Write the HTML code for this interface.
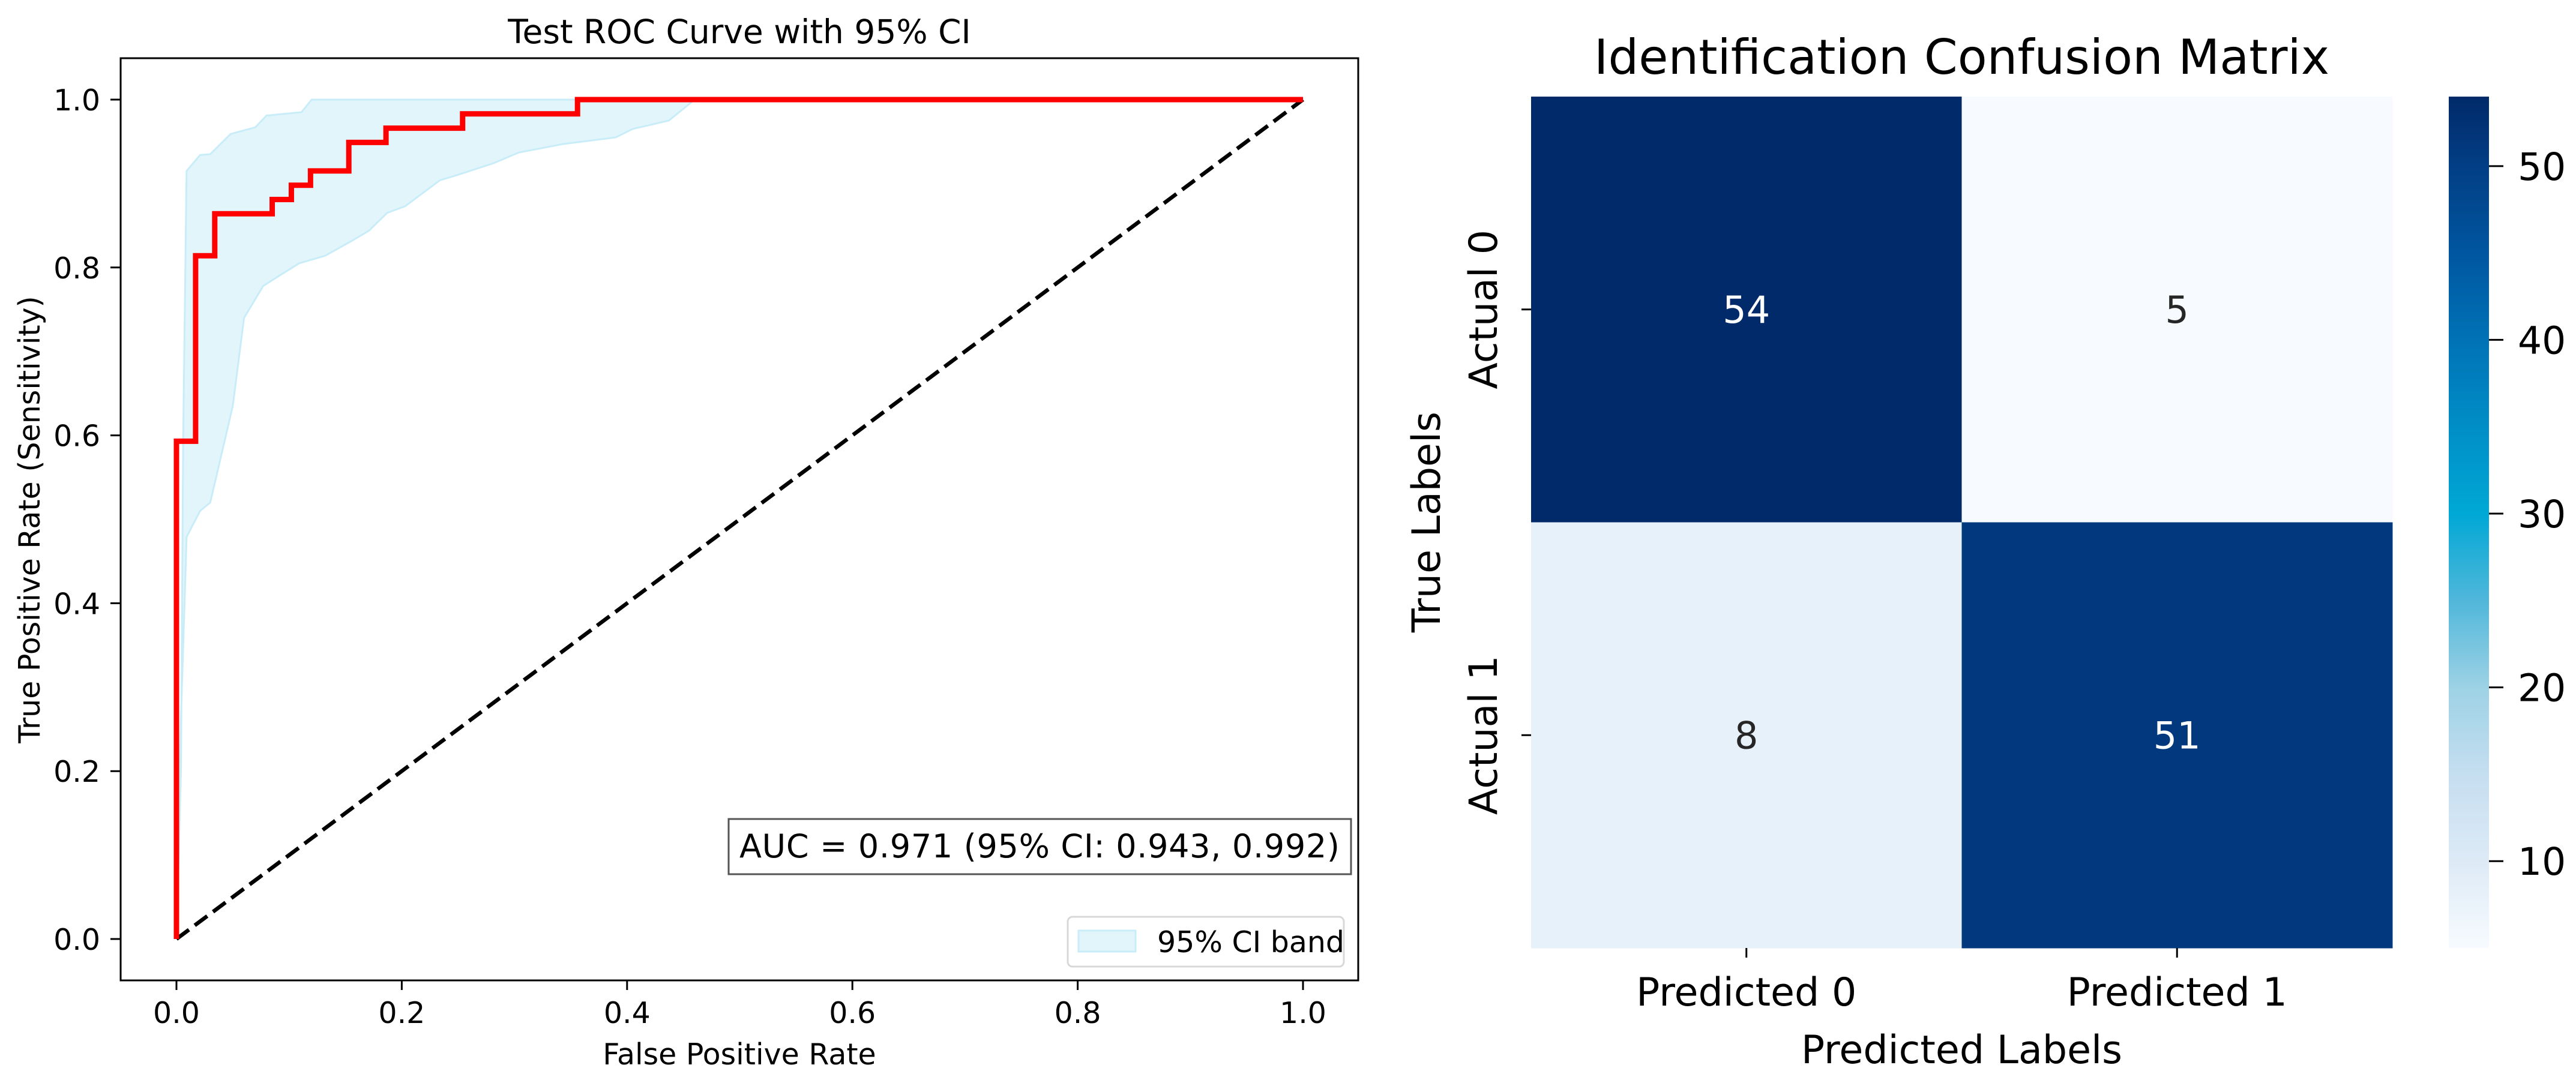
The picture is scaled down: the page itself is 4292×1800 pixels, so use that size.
<!DOCTYPE html>
<html><head><meta charset="utf-8"><style>
html,body{margin:0;padding:0;background:#fff;}
svg{display:block;font-family:"DejaVu Sans","Liberation Sans",sans-serif;}
</style></head><body>
<svg id="fig" width="4292" height="1800" viewBox="0 0 4292 1800" xmlns="http://www.w3.org/2000/svg">
<rect x="0" y="0" width="4292" height="1800" fill="#fff"/>
<g id="roc"></g>
<g id="cm"></g>
</svg>
<script>
// ROC data
const rocFpr = [0,0,0.017,0.017,0.034,0.034,0.085,0.085,0.102,0.102,0.119,0.119,0.153,0.153,0.186,0.186,0.254,0.254,0.356,0.356,1];
const rocTpr = [0,0.593,0.593,0.814,0.814,0.864,0.864,0.881,0.881,0.898,0.898,0.915,0.915,0.949,0.949,0.966,0.966,0.983,0.983,1,1];
const ciUpperFpr = [0,0.004,0.006,0.009,0.021,0.03,0.048,0.07,0.08,0.111,0.12,1];
const ciUpperTpr = [0,0.2,0.6,0.915,0.934,0.935,0.959,0.967,0.981,0.985,1,1];
const ciLowerFpr = [0,0.003,0.009,0.021,0.03,0.05,0.06,0.077,0.091,0.109,0.132,0.156,0.171,0.187,0.203,0.234,0.249,0.281,0.304,0.343,0.39,0.405,0.437,0.449,0.46,1];
const ciLowerTpr = [0,0.22,0.479,0.51,0.52,0.635,0.74,0.778,0.79,0.805,0.814,0.832,0.844,0.865,0.873,0.904,0.91,0.924,0.937,0.947,0.955,0.965,0.975,0.988,1,1];
const rocTicks = [0,0.2,0.4,0.6,0.8,1.0];
const rocTickLabels = ["0.0","0.2","0.4","0.6","0.8","1.0"];
// Confusion matrix data
const cmRows = ["Actual 0","Actual 1"];
const cmCols = ["Predicted 0","Predicted 1"];
const cmValues = [[54,5],[8,51]];
const cbTicks = [10,20,30,40,50];

const NS = "http://www.w3.org/2000/svg";
function mk(parent, tag, attrs, text){
  const e = document.createElementNS(NS, tag);
  for (const k in attrs) e.setAttribute(k, attrs[k]);
  if (text !== undefined) e.textContent = text;
  parent.appendChild(e);
  return e;
}

// ---------- ROC ----------
const roc = document.getElementById('roc');
const X0 = 294, X1 = 2171, Y0 = 1565, Y1 = 166;
const sx = v => X0 + (X1 - X0) * v;
const sy = v => Y0 + (Y1 - Y0) * v;

let bandPts = [];
for (let i = 0; i < ciUpperFpr.length; i++) bandPts.push(sx(ciUpperFpr[i]) + ',' + sy(ciUpperTpr[i]));
for (let i = ciLowerFpr.length - 1; i >= 0; i--) bandPts.push(sx(ciLowerFpr[i]) + ',' + sy(ciLowerTpr[i]));
const band = mk(roc, 'polygon', {points: bandPts.join(' '), fill: '#e1f5fb', stroke: '#c9edf8', 'stroke-width': 3});



const diag = mk(roc, 'line', {x1: sx(0), y1: sy(0), x2: sx(1), y2: sy(1), stroke: '#000', 'stroke-width': 6.5, 'stroke-dasharray': '26,12'});



const rocPts = rocFpr.map((f, i) => sx(f) + ',' + sy(rocTpr[i])).join(' ');
const rocLine = mk(roc, 'polyline', {points: rocPts, fill: 'none', stroke: '#ff0000', 'stroke-width': 9, 'stroke-linejoin': 'miter'});



const frame = mk(roc, 'rect', {x: 201, y: 97, width: 2062, height: 1537, fill: 'none', stroke: '#000', 'stroke-width': 3});



rocTicks.forEach((t, i) => {
  const tx = mk(roc, 'line', {x1: sx(t), y1: 1634, x2: sx(t), y2: 1650, stroke: '#000', 'stroke-width': 3});
  
  
  const lx = mk(roc, 'text', {x: sx(t), y: 1705, 'font-size': 49, 'text-anchor': 'middle', fill: '#000'}, rocTickLabels[i]);
  
  
  const ty = mk(roc, 'line', {x1: 184, y1: sy(t), x2: 201, y2: sy(t), stroke: '#000', 'stroke-width': 3});
  
  
  const ly = mk(roc, 'text', {x: 167, y: sy(t) + 18, 'font-size': 49, 'text-anchor': 'end', fill: '#000'}, rocTickLabels[i]);
  
  
});

const rocTitle = mk(roc, 'text', {x: 1232, y: 72, 'font-size': 55, 'text-anchor': 'middle', fill: '#000'}, 'Test ROC Curve with 95% CI');


const xl = mk(roc, 'text', {x: 1232, y: 1774, 'font-size': 49, 'text-anchor': 'middle', fill: '#000'}, 'False Positive Rate');


const yl = mk(roc, 'text', {x: 0, y: 0, 'font-size': 49, 'text-anchor': 'middle', fill: '#000', transform: 'translate(66,866) rotate(-90)'}, 'True Positive Rate (Sensitivity)');



const aucBox = mk(roc, 'rect', {x: 1214, y: 1365, width: 1037, height: 92, fill: '#fff', stroke: '#555', 'stroke-width': 3});


const aucText = mk(roc, 'text', {x: 1232, y: 1429, 'font-size': 54, fill: '#000', textLength: 1000}, 'AUC = 0.971 (95% CI: 0.943, 0.992)');



const leg = mk(roc, 'rect', {x: 1779, y: 1528, width: 460, height: 83, rx: 8, fill: '#fff', stroke: '#d8d8d8', 'stroke-width': 3});


const legPatch = mk(roc, 'rect', {x: 1797, y: 1551, width: 95, height: 35, fill: '#e1f5fb', stroke: '#c9edf8', 'stroke-width': 3});


const legText = mk(roc, 'text', {x: 1928, y: 1587, 'font-size': 49, fill: '#000'}, '95% CI band');



// ---------- Confusion matrix ----------
const cm = document.getElementById('cm');
const HX0 = 2551, HX1 = 3986, HY0 = 161, HY1 = 1580;
const vmin = 5, vmax = 54;
const cw = (HX1 - HX0) / cmCols.length, ch = (HY1 - HY0) / cmRows.length;
const cStops = [[5,[247,251,255]],[10,[221,234,246]],[15,[197,222,240]],[20,[157,210,229]],[25,[80,183,218]],[30,[0,168,213]],[35,[0,142,198]],[40,[0,114,181]],[45,[0,86,160]],[50,[2,62,132]],[54,[1,42,106]]];
function cmap(v){
  if (v <= cStops[0][0]) return cStops[0][1];
  for (let i = 1; i < cStops.length; i++){
    if (v <= cStops[i][0]){
      const a = cStops[i-1], b = cStops[i], t = (v - a[0]) / (b[0] - a[0]);
      return a[1].map((c, k) => Math.round(c + (b[1][k] - c) * t));
    }
  }
  return cStops[cStops.length-1][1];
}
const rgb = c => 'rgb(' + c.join(',') + ')';

cmValues.forEach((row, r) => {
  row.forEach((v, c) => {
    const cell = mk(cm, 'rect', {x: HX0 + c * cw, y: HY0 + r * ch, width: cw + 0.5, height: ch + 0.5, fill: rgb(cmap(v))});
    
    
    const lum = v > (vmin + vmax) / 2;
    const t = mk(cm, 'text', {x: HX0 + (c + 0.5) * cw, y: HY0 + (r + 0.5) * ch + 22, 'font-size': 62, 'text-anchor': 'middle', fill: lum ? '#fff' : '#262626'}, String(v));
    
    
  });
});

cmCols.forEach((lab, i) => {
  const x = HX0 + (i + 0.5) * cw;
  const tk = mk(cm, 'line', {x1: x, y1: HY1, x2: x, y2: HY1 + 16, stroke: '#000', 'stroke-width': 3});
  
  
  const t = mk(cm, 'text', {x: x, y: 1676, 'font-size': 65, 'text-anchor': 'middle', fill: '#000'}, lab);
  
  
});
cmRows.forEach((lab, i) => {
  const y = HY0 + (i + 0.5) * ch;
  const tk = mk(cm, 'line', {x1: HX0 - 16, y1: y, x2: HX0, y2: y, stroke: '#000', 'stroke-width': 3});
  
  
  const t = mk(cm, 'text', {x: 0, y: 0, 'font-size': 65, 'text-anchor': 'middle', fill: '#000', transform: 'translate(2494,' + y + ') rotate(-90)'}, lab);
  
  
});

const cmTitle = mk(cm, 'text', {x: (HX0 + HX1) / 2, y: 123, 'font-size': 80, 'text-anchor': 'middle', fill: '#000'}, 'Identification Confusion Matrix');


const cmx = mk(cm, 'text', {x: (HX0 + HX1) / 2, y: 1772, 'font-size': 65, 'text-anchor': 'middle', fill: '#000'}, 'Predicted Labels');


const cmy = mk(cm, 'text', {x: 0, y: 0, 'font-size': 65, 'text-anchor': 'middle', fill: '#000', transform: 'translate(2399,870) rotate(-90)'}, 'True Labels');



// colorbar
const CBX = 4080, CBW = 67;
const cby = v => HY1 + (HY0 - HY1) * (v - vmin) / (vmax - vmin);
const defs = mk(document.getElementById('fig'), 'defs', {});
const grad = mk(defs, 'linearGradient', {id: 'cbgrad', x1: 0, y1: 1, x2: 0, y2: 0});
cStops.forEach(s => {
  mk(grad, 'stop', {offset: ((s[0] - vmin) / (vmax - vmin)).toFixed(4), 'stop-color': rgb(s[1])});
});
const cb = mk(cm, 'rect', {x: CBX, y: HY0, width: CBW, height: HY1 - HY0, fill: 'url(#cbgrad)'});


cbTicks.forEach(t => {
  const y = cby(t);
  const tk = mk(cm, 'line', {x1: CBX + CBW, y1: y, x2: CBX + CBW + 24, y2: y, stroke: '#000', 'stroke-width': 3});
  
  
  const lb = mk(cm, 'text', {x: 4195, y: y + 23, 'font-size': 63, fill: '#000'}, String(t));
  
  
});
</script>
</body></html>
